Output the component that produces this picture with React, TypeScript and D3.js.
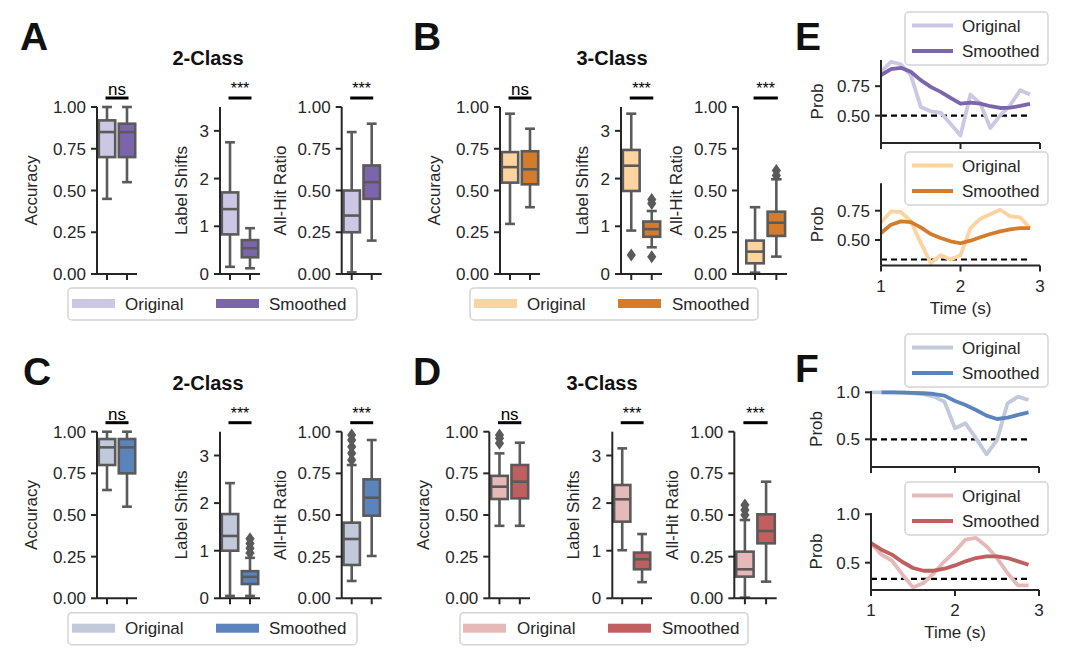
import * as d3 from 'd3';

const FONT = '"Liberation Sans", Arial, Helvetica, sans-serif';
const INK = '#262626';
const EDGE = '#5a5a5a';

const GROUPS = ['Original', 'Smoothed'];

// box stats per group: [lower whisker, q1, median, q3, upper whisker]
const A_ACC = [[0.45, 0.7, 0.85, 0.92, 1.0], [0.55, 0.7, 0.85, 0.9, 1.0]];
const A_SHIFT = [[0.15, 0.83, 1.36, 1.71, 2.76], [0.12, 0.35, 0.54, 0.71, 0.96]];
const A_HIT = [[0.01, 0.25, 0.35, 0.5, 0.85], [0.2, 0.45, 0.55, 0.65, 0.9]];

const B_ACC = [[0.3, 0.547, 0.64, 0.73, 0.96], [0.4, 0.537, 0.627, 0.735, 0.87]];
const B_SHIFT = [[0.91, 1.74, 2.27, 2.6, 3.36], [0.56, 0.78, 0.94, 1.1, 1.32]];
const B_SHIFT_OUT = [[0.4], [0.36, 1.48, 1.56]];
const B_HIT = [[0.008, 0.064, 0.134, 0.2, 0.4], [0.104, 0.228, 0.307, 0.373, 0.567]];
const B_HIT_OUT = [[], [0.59, 0.62]];

const C_ACC = [[0.65, 0.8, 0.906, 0.956, 1.0], [0.55, 0.75, 0.906, 0.956, 1.0]];
const C_SHIFT = [[0.05, 1.0, 1.31, 1.77, 2.42], [0.05, 0.3, 0.45, 0.57, 0.85]];
const C_SHIFT_OUT = [[], [0.95, 1.05, 1.15, 1.25]];
const C_HIT = [[0.104, 0.2, 0.356, 0.454, 0.8], [0.254, 0.496, 0.604, 0.714, 0.95]];
const C_HIT_OUT = [[0.83, 0.87, 0.91, 0.95, 0.98], []];

const D_ACC = [[0.435, 0.596, 0.67, 0.735, 0.87], [0.435, 0.6, 0.7, 0.8, 0.934]];
const D_ACC_OUT = [[0.93, 0.96, 0.98], []];
const D_SHIFT = [[1.01, 1.61, 2.08, 2.38, 3.15], [0.34, 0.61, 0.82, 0.96, 1.35]];
const D_HIT = [[0.004, 0.13, 0.174, 0.28, 0.47], [0.1, 0.33, 0.404, 0.504, 0.7]];
const D_HIT_OUT = [[0.5, 0.53, 0.56], []];

const NONE = [[], []];

const PURPLE = ['#cbc7e4', '#7b65ad'];
const ORANGE = ['#fdd3a0', '#d47b2c'];
const BLUE = ['#c1c9da', '#5b84bd'];
const RED = ['#e6b9b9', '#bf5f5f'];

const RATIO_TICKS = [0, 0.25, 0.5, 0.75, 1.0];
const SHIFT_TICKS = [0, 1, 2, 3];

// time course examples
const TIME = [1, 1.125, 1.25, 1.375, 1.5, 1.625, 1.75, 1.875, 2, 2.125, 2.25, 2.375, 2.5, 2.625, 2.75, 2.875];
const E1_ORIG = [0.872, 0.957, 0.935, 0.844, 0.574, 0.537, 0.526, 0.432, 0.332, 0.679, 0.602, 0.395, 0.503, 0.588, 0.716, 0.679];
const E1_SMOOTH = [0.844, 0.895, 0.906, 0.872, 0.801, 0.744, 0.702, 0.651, 0.602, 0.611, 0.602, 0.58, 0.565, 0.568, 0.582, 0.6];
const E2_ORIG = [0.65, 0.744, 0.739, 0.66, 0.475, 0.304, 0.37, 0.333, 0.37, 0.602, 0.682, 0.72, 0.758, 0.702, 0.693, 0.602];
const E2_SMOOTH = [0.56, 0.63, 0.659, 0.653, 0.608, 0.551, 0.517, 0.489, 0.472, 0.494, 0.523, 0.551, 0.574, 0.591, 0.602, 0.602];
const F1_ORIG = [1.0, 1.0, 1.0, 1.0, 0.99, 0.98, 0.954, 0.9, 0.617, 0.67, 0.51, 0.34, 0.49, 0.883, 0.954, 0.918];
const F1_SMOOTH = [null, 1.0, 1.0, 0.996, 0.993, 0.99, 0.982, 0.965, 0.908, 0.865, 0.812, 0.752, 0.716, 0.73, 0.759, 0.787];
const F2_ORIG = [0.7, 0.583, 0.52, 0.376, 0.245, 0.29, 0.393, 0.514, 0.617, 0.738, 0.755, 0.669, 0.548, 0.393, 0.265, 0.265];
const F2_SMOOTH = [0.703, 0.634, 0.583, 0.507, 0.445, 0.417, 0.417, 0.438, 0.472, 0.514, 0.548, 0.566, 0.566, 0.548, 0.514, 0.479];
const CHANCE_2 = 0.5;
const CHANCE_3 = 1 / 3;

type Metric = {
  spine: number; end: number; lo?: number;
  stats: number[][]; out: number[][];
  max: number; ticks: number[]; fmt: string;
  label: string; gap: number; sig: string;
};

function diamond(cx: number, cy: number) {
  const h = 6.5, w = 4.6;
  return `M${cx},${cy - h}L${cx + w},${cy}L${cx},${cy + h}L${cx - w},${cy}Z`;
}

function BoxAxis({ m, top, bottom, colors }: { m: Metric; top: number; bottom: number; colors: string[] }) {
  const x = d3.scaleLinear().domain([m.lo ?? -0.5, 1.5]).range([m.spine, m.end]);
  const y = d3.scaleLinear().domain([0, m.max]).range([bottom, top]);
  const bw = x(0.82) - x(0);
  const cap = bw * 0.3;
  const fmt = d3.format(m.fmt);
  const mid = (top + bottom) / 2;
  return (
    <g>
      {m.stats.map((s, i) => {
        const cx = x(i);
        return (
          <g key={i}>
            <line x1={cx} x2={cx} y1={y(s[0])} y2={y(s[1])} stroke={EDGE} strokeWidth={2.6} />
            <line x1={cx} x2={cx} y1={y(s[3])} y2={y(s[4])} stroke={EDGE} strokeWidth={2.6} />
            <line x1={cx - cap} x2={cx + cap} y1={y(s[0])} y2={y(s[0])} stroke={EDGE} strokeWidth={2.6} />
            <line x1={cx - cap} x2={cx + cap} y1={y(s[4])} y2={y(s[4])} stroke={EDGE} strokeWidth={2.6} />
            <rect x={cx - bw / 2} y={y(s[3])} width={bw} height={y(s[1]) - y(s[3])} fill={colors[i]} stroke={EDGE} strokeWidth={2.6} />
            <line x1={cx - bw / 2} x2={cx + bw / 2} y1={y(s[2])} y2={y(s[2])} stroke={EDGE} strokeWidth={2.6} />
            {m.out[i].map((v, k) => (
              <path key={k} d={diamond(cx, y(v))} fill={EDGE} />
            ))}
          </g>
        );
      })}
      {/* spines */}
      <line x1={m.spine} x2={m.spine} y1={top} y2={bottom} stroke={INK} strokeWidth={2} />
      <line x1={m.spine} x2={m.end} y1={bottom} y2={bottom} stroke={INK} strokeWidth={2} />
      {m.ticks.map((t) => (
        <g key={t}>
          <line x1={m.spine - 6} x2={m.spine} y1={y(t)} y2={y(t)} stroke={INK} strokeWidth={2} />
          <text x={m.spine - 11} y={y(t)} dy="0.36em" textAnchor="end" fontSize={17} fill={INK}>{fmt(t)}</text>
        </g>
      ))}
      {[0, 1].map((i) => (
        <line key={i} x1={x(i)} x2={x(i)} y1={bottom} y2={bottom + 6} stroke={INK} strokeWidth={2} />
      ))}
      <text transform={`translate(${m.spine - m.gap},${mid}) rotate(-90)`} textAnchor="middle" fontSize={17} fill={INK}>{m.label}</text>
      {/* significance */}
      <line x1={x(0) - 1.5} x2={x(1) + 1.5} y1={top - 9} y2={top - 9} stroke="#000" strokeWidth={3} />
      <text x={(x(0) + x(1)) / 2} y={m.sig === 'ns' ? top - 12 : top - 13} textAnchor="middle" fontSize={m.sig === 'ns' ? 17 : 16} fill="#000">{m.sig}</text>
    </g>
  );
}

type BoxPanelSpec = {
  letter: string; lx: number; ly: number; title: string; tx: number;
  top: number; bottom: number; colors: string[]; metrics: Metric[];
  legX: number; legW: number; patchX: number[]; textX: number[];
};

function BoxPanel({ p }: { p: BoxPanelSpec }) {
  const legY = p.top + 181;
  return (
    <g>
      <text x={p.lx} y={p.ly} fontSize={39} fontWeight="bold" fill="#111">{p.letter}</text>
      <text x={p.tx} y={p.top - 42} textAnchor="middle" fontSize={20} fontWeight="bold" fill="#111">{p.title}</text>
      {p.metrics.map((m, i) => (
        <BoxAxis key={i} m={m} top={p.top} bottom={p.bottom} colors={p.colors} />
      ))}
      <rect x={p.legX} y={legY} width={p.legW} height={32} rx={4} fill="#fff" stroke="#d4d4d4" strokeWidth={1.5} />
      {GROUPS.map((g, i) => (
        <g key={g}>
          <rect x={p.patchX[i]} y={legY + 11} width={43} height={9} fill={p.colors[i]} />
          <text x={p.textX[i]} y={legY + 21.5} fontSize={17} fill={INK}>{g}</text>
        </g>
      ))}
    </g>
  );
}

function metrics(
  acc: number[][], accOut: number[][], shift: number[][], shiftOut: number[][], hit: number[][], hitOut: number[][],
  pos: number[][],
): Metric[] {
  return [
    { spine: pos[0][0], end: pos[0][1], lo: pos[0][2], stats: acc, out: accOut, max: 1, ticks: RATIO_TICKS, fmt: '.2f', label: 'Accuracy', gap: 60, sig: 'ns' },
    { spine: pos[1][0], end: pos[1][1], lo: pos[1][2], stats: shift, out: shiftOut, max: 3.5, ticks: SHIFT_TICKS, fmt: 'd', label: 'Label Shifts', gap: 33, sig: '***' },
    { spine: pos[2][0], end: pos[2][1], lo: pos[2][2], stats: hit, out: hitOut, max: 1, ticks: RATIO_TICKS, fmt: '.2f', label: 'All-Hit Ratio', gap: 56, sig: '***' },
  ];
}

type LineSpec = {
  x0: number; x1: number; top: number; bottom: number; domain: [number, number];
  ticks: number[]; fmt: string; gap: number; orig: (number | null)[]; smooth: (number | null)[];
  chance: number; colors: string[]; xLabels: boolean; legY: number;
};

function LineAxis({ p }: { p: LineSpec }) {
  const x = d3.scaleLinear().domain([1, 3]).range([p.x0, p.x1]);
  const y = d3.scaleLinear().domain(p.domain).range([p.bottom, p.top]);
  const line = d3
    .line<number | null>()
    .defined((d) => d != null)
    .x((_d, i) => x(TIME[i]))
    .y((d) => y(d as number));
  const fmt = d3.format(p.fmt);
  const last = TIME[TIME.length - 1];
  return (
    <g>
      <line x1={x(1)} x2={x(last)} y1={y(p.chance)} y2={y(p.chance)} stroke="#000" strokeWidth={2.2} strokeDasharray="6,4" />
      <path d={line(p.orig) ?? ''} fill="none" stroke={p.colors[0]} strokeWidth={3.8} strokeLinejoin="round" />
      <path d={line(p.smooth) ?? ''} fill="none" stroke={p.colors[1]} strokeWidth={3.8} strokeLinejoin="round" />
      <line x1={p.x0} x2={p.x0} y1={p.top} y2={p.bottom} stroke={INK} strokeWidth={2} />
      <line x1={p.x0} x2={p.x1} y1={p.bottom} y2={p.bottom} stroke={INK} strokeWidth={2} />
      {p.ticks.map((t) => (
        <g key={t}>
          <line x1={p.x0 - 6} x2={p.x0} y1={y(t)} y2={y(t)} stroke={INK} strokeWidth={2} />
          <text x={p.x0 - 11} y={y(t)} dy="0.36em" textAnchor="end" fontSize={17} fill={INK}>{fmt(t)}</text>
        </g>
      ))}
      {[1, 2, 3].map((t) => (
        <g key={t}>
          <line x1={x(t)} x2={x(t)} y1={p.bottom} y2={p.bottom + 6} stroke={INK} strokeWidth={2} />
          {p.xLabels && (
            <text x={x(t)} y={p.bottom + 26} textAnchor="middle" fontSize={17} fill={INK}>{t}</text>
          )}
        </g>
      ))}
      {p.xLabels && (
        <text x={(p.x0 + p.x1) / 2} y={p.bottom + 48} textAnchor="middle" fontSize={17} fill={INK}>Time (s)</text>
      )}
      <text transform={`translate(${p.x0 - p.gap},${(p.top + p.bottom) / 2}) rotate(-90)`} textAnchor="middle" fontSize={17} fill={INK}>Prob</text>
      <rect x={905} y={p.legY} width={143} height={53} rx={4} fill="#fff" fillOpacity={0.85} stroke="#d4d4d4" strokeWidth={1.5} />
      {GROUPS.map((g, i) => (
        <g key={g}>
          <line x1={912} x2={953} y1={p.legY + 13.5 + i * 25.5} y2={p.legY + 13.5 + i * 25.5} stroke={p.colors[i]} strokeWidth={3.8} />
          <text x={962} y={p.legY + 19.5 + i * 25.5} fontSize={17} fill={INK}>{g}</text>
        </g>
      ))}
    </g>
  );
}

export default function App() {
  const panels: BoxPanelSpec[] = [
    {
      letter: 'A', lx: 20, ly: 50, title: '2-Class', tx: 208, top: 107, bottom: 274, colors: PURPLE,
      metrics: metrics(A_ACC, NONE, A_SHIFT, NONE, A_HIT, NONE, [[97, 137], [220, 260], [341.7, 381.7]]),
      legX: 68, legW: 289, patchX: [72, 216], textX: [125, 269],
    },
    {
      letter: 'B', lx: 413, ly: 50, title: '3-Class', tx: 612, top: 107, bottom: 274, colors: ORANGE,
      metrics: metrics(B_ACC, NONE, B_SHIFT, B_SHIFT_OUT, B_HIT, B_HIT_OUT, [[500, 540], [621, 662], [738, 787, -0.8]]),
      legX: 470, legW: 288, patchX: [474, 618], textX: [527, 672],
    },
    {
      letter: 'C', lx: 23, ly: 385, title: '2-Class', tx: 208, top: 431.7, bottom: 598.3, colors: BLUE,
      metrics: metrics(C_ACC, NONE, C_SHIFT, C_SHIFT_OUT, C_HIT, C_HIT_OUT, [[97, 137], [220, 260], [341.7, 381.7]]),
      legX: 68, legW: 289, patchX: [72, 216], textX: [125, 269],
    },
    {
      letter: 'D', lx: 413, ly: 385, title: '3-Class', tx: 602, top: 431.7, bottom: 598.3, colors: RED,
      metrics: metrics(D_ACC, D_ACC_OUT, D_SHIFT, NONE, D_HIT, D_HIT_OUT, [[489.3, 530], [612.3, 652], [734.3, 776.7]]),
      legX: 460, legW: 288, patchX: [463, 608], textX: [517, 662],
    },
  ];

  const lines: LineSpec[] = [
    { x0: 881, x1: 1040, top: 60, bottom: 143, domain: [0.268, 0.972], ticks: [0.5, 0.75], fmt: '.2f', gap: 58, orig: E1_ORIG, smooth: E1_SMOOTH, chance: CHANCE_2, colors: PURPLE, xLabels: false, legY: 12 },
    { x0: 881, x1: 1040, top: 183.3, bottom: 265.5, domain: [0.282, 0.984], ticks: [0.5, 0.75], fmt: '.2f', gap: 58, orig: E2_ORIG, smooth: E2_SMOOTH, chance: CHANCE_3, colors: ORANGE, xLabels: true, legY: 152 },
    { x0: 871, x1: 1039, top: 391, bottom: 467, domain: [0.205, 1.014], ticks: [0.5, 1.0], fmt: '.1f', gap: 49, orig: F1_ORIG, smooth: F1_SMOOTH, chance: CHANCE_2, colors: BLUE, xLabels: false, legY: 334 },
    { x0: 871, x1: 1039, top: 513, bottom: 590, domain: [0.218, 1.013], ticks: [0.5, 1.0], fmt: '.1f', gap: 49, orig: F2_ORIG, smooth: F2_SMOOTH, chance: CHANCE_3, colors: RED, xLabels: true, legY: 482 },
  ];

  return (
    <svg
      width={1080}
      height={658}
      style={{ position: 'absolute', left: 0, top: 0, background: '#fff', fontFamily: FONT }}
    >
      {panels.map((p) => (
        <BoxPanel key={p.letter} p={p} />
      ))}
      <text x={795} y={50} fontSize={39} fontWeight="bold" fill="#111">E</text>
      <text x={795} y={382} fontSize={39} fontWeight="bold" fill="#111">F</text>
      {lines.map((l, i) => (
        <LineAxis key={i} p={l} />
      ))}
    </svg>
  );
}
